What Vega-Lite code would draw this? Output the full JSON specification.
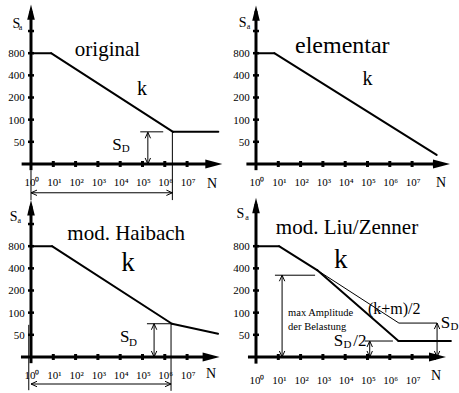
{
  "$schema": "https://vega.github.io/schema/vega-lite/v6.json",
  "padding": 0,
  "background": "white",
  "data": {
    "values": [
      {"p": "1", "r": "ax", "x": -0.42, "y": 0, "x2": 8.2, "y2": 0},
      {"p": "1", "r": "ax", "x": 0, "y": -0.28, "x2": 0, "y2": 6.9},
      {"p": "1", "r": "ah", "x": 8.58, "y": 0, "d": "R"},
      {"p": "1", "r": "ah", "x": 0, "y": 7.2, "d": "U"},
      {"p": "1", "r": "xt", "x": 1, "y": 0},
      {"p": "1", "r": "xt", "x": 2, "y": 0},
      {"p": "1", "r": "xt", "x": 3, "y": 0},
      {"p": "1", "r": "xt", "x": 4, "y": 0},
      {"p": "1", "r": "xt", "x": 5, "y": 0},
      {"p": "1", "r": "xt", "x": 6, "y": 0},
      {"p": "1", "r": "xt", "x": 7, "y": 0},
      {"p": "1", "r": "yt", "x": 0, "y": 1},
      {"p": "1", "r": "yt", "x": 0, "y": 2},
      {"p": "1", "r": "yt", "x": 0, "y": 3},
      {"p": "1", "r": "yt", "x": 0, "y": 4},
      {"p": "1", "r": "yt", "x": 0, "y": 5},
      {"p": "1", "r": "yt", "x": 0, "y": 6},
      {"p": "1", "r": "xl", "x": 0, "y": -0.98, "t": "10⁰"},
      {"p": "1", "r": "xl", "x": 1, "y": -0.98, "t": "10¹"},
      {"p": "1", "r": "xl", "x": 2, "y": -0.98, "t": "10²"},
      {"p": "1", "r": "xl", "x": 3, "y": -0.98, "t": "10³"},
      {"p": "1", "r": "xl", "x": 4, "y": -0.98, "t": "10⁴"},
      {"p": "1", "r": "xl", "x": 5, "y": -0.98, "t": "10⁵"},
      {"p": "1", "r": "xl", "x": 6, "y": -0.98, "t": "10⁶"},
      {"p": "1", "r": "xl", "x": 7, "y": -0.98, "t": "10⁷"},
      {"p": "1", "r": "yl", "x": -0.28, "y": 0.82, "t": "50"},
      {"p": "1", "r": "yl", "x": -0.28, "y": 1.82, "t": "100"},
      {"p": "1", "r": "yl", "x": -0.28, "y": 2.82, "t": "200"},
      {"p": "1", "r": "yl", "x": -0.28, "y": 3.82, "t": "400"},
      {"p": "1", "r": "yl", "x": -0.28, "y": 4.82, "t": "800"},
      {"p": "1", "r": "cv", "x": 0, "y": 5, "x2": 0.9, "y2": 5},
      {"p": "1", "r": "cv", "x": 0.9, "y": 5, "x2": 6.37, "y2": 1.45},
      {"p": "1", "r": "cv", "x": 6.37, "y": 1.45, "x2": 8.4, "y2": 1.45},
      {"p": "1", "r": "dm", "x": 5.24, "y": 0, "x2": 5.24, "y2": 1.43},
      {"p": "1", "r": "dm", "x": 4.9, "y": 1.45, "x2": 5.93, "y2": 1.45},
      {"p": "1", "r": "dm", "x": 6.34, "y": 1.45, "x2": 6.34, "y2": -1.63},
      {"p": "1", "r": "dm", "x": 0, "y": -1.3, "x2": 6.34, "y2": -1.3},
      {"p": "1", "r": "dm", "x": 0, "y": -0.28, "x2": 0, "y2": -1.63},
      {"p": "1", "r": "tip", "x": 5.24, "y": 1.43, "d": "u"},
      {"p": "1", "r": "tip", "x": 5.24, "y": 0, "d": "d"},
      {"p": "1", "r": "tip", "x": 0, "y": -1.3, "d": "l"},
      {"p": "1", "r": "tip", "x": 6.34, "y": -1.3, "d": "r"},
      {"p": "1", "r": "t21", "x": 3.43, "y": 4.86, "t": "original"},
      {"p": "1", "r": "k20", "x": 4.98, "y": 3.12, "t": "k"},
      {"p": "1", "r": "t17", "x": 3.86, "y": 0.64, "t": "S"},
      {"p": "1", "r": "t11", "x": 4.25, "y": 0.52, "t": "D"},
      {"p": "1", "r": "t14", "x": -0.66, "y": 6.12, "t": "S"},
      {"p": "1", "r": "t8", "x": -0.47, "y": 6.05, "t": "a"},
      {"p": "1", "r": "t14", "x": 8.12, "y": -1.07, "t": "N"},

      {"p": "2", "r": "ax", "x": -0.43, "y": 0, "x2": 8.3, "y2": 0},
      {"p": "2", "r": "ax", "x": 0, "y": -0.28, "x2": 0, "y2": 6.9},
      {"p": "2", "r": "ah", "x": 8.7, "y": 0, "d": "R"},
      {"p": "2", "r": "ah", "x": 0, "y": 7.15, "d": "U"},
      {"p": "2", "r": "xt", "x": 1, "y": 0},
      {"p": "2", "r": "xt", "x": 2, "y": 0},
      {"p": "2", "r": "xt", "x": 3, "y": 0},
      {"p": "2", "r": "xt", "x": 4, "y": 0},
      {"p": "2", "r": "xt", "x": 5, "y": 0},
      {"p": "2", "r": "xt", "x": 6, "y": 0},
      {"p": "2", "r": "xt", "x": 7, "y": 0},
      {"p": "2", "r": "xt", "x": 8, "y": 0},
      {"p": "2", "r": "yt", "x": 0, "y": 1},
      {"p": "2", "r": "yt", "x": 0, "y": 2},
      {"p": "2", "r": "yt", "x": 0, "y": 3},
      {"p": "2", "r": "yt", "x": 0, "y": 4},
      {"p": "2", "r": "yt", "x": 0, "y": 5},
      {"p": "2", "r": "yt", "x": 0, "y": 6},
      {"p": "2", "r": "xl", "x": 0, "y": -0.98, "t": "10⁰"},
      {"p": "2", "r": "xl", "x": 1, "y": -0.98, "t": "10¹"},
      {"p": "2", "r": "xl", "x": 2, "y": -0.98, "t": "10²"},
      {"p": "2", "r": "xl", "x": 3, "y": -0.98, "t": "10³"},
      {"p": "2", "r": "xl", "x": 4, "y": -0.98, "t": "10⁴"},
      {"p": "2", "r": "xl", "x": 5, "y": -0.98, "t": "10⁵"},
      {"p": "2", "r": "xl", "x": 6, "y": -0.98, "t": "10⁶"},
      {"p": "2", "r": "xl", "x": 7, "y": -0.98, "t": "10⁷"},
      {"p": "2", "r": "yl", "x": -0.28, "y": 0.82, "t": "50"},
      {"p": "2", "r": "yl", "x": -0.28, "y": 1.82, "t": "100"},
      {"p": "2", "r": "yl", "x": -0.28, "y": 2.82, "t": "200"},
      {"p": "2", "r": "yl", "x": -0.28, "y": 3.82, "t": "400"},
      {"p": "2", "r": "yl", "x": -0.28, "y": 4.82, "t": "800"},
      {"p": "2", "r": "cv", "x": 0, "y": 5, "x2": 0.82, "y2": 5},
      {"p": "2", "r": "cv", "x": 0.82, "y": 5, "x2": 8.1, "y2": 0.41},
      {"p": "2", "r": "t24", "x": 3.87, "y": 5.0, "t": "elementar"},
      {"p": "2", "r": "k20", "x": 5.0, "y": 3.57, "t": "k"},
      {"p": "2", "r": "t14", "x": -0.6, "y": 6.2, "t": "S"},
      {"p": "2", "r": "t8", "x": -0.33, "y": 6.1, "t": "a"},
      {"p": "2", "r": "t14", "x": 8.3, "y": -1.04, "t": "N"},

      {"p": "3", "r": "ax", "x": -0.45, "y": 0, "x2": 8.1, "y2": 0},
      {"p": "3", "r": "ax", "x": 0, "y": -0.28, "x2": 0, "y2": 6.8},
      {"p": "3", "r": "ah", "x": 8.46, "y": 0, "d": "R"},
      {"p": "3", "r": "ah", "x": 0, "y": 7.08, "d": "U"},
      {"p": "3", "r": "xt", "x": 1, "y": 0},
      {"p": "3", "r": "xt", "x": 2, "y": 0},
      {"p": "3", "r": "xt", "x": 3, "y": 0},
      {"p": "3", "r": "xt", "x": 4, "y": 0},
      {"p": "3", "r": "xt", "x": 5, "y": 0},
      {"p": "3", "r": "xt", "x": 6, "y": 0},
      {"p": "3", "r": "xt", "x": 7, "y": 0},
      {"p": "3", "r": "yt", "x": 0, "y": 1},
      {"p": "3", "r": "yt", "x": 0, "y": 2},
      {"p": "3", "r": "yt", "x": 0, "y": 3},
      {"p": "3", "r": "yt", "x": 0, "y": 4},
      {"p": "3", "r": "yt", "x": 0, "y": 5},
      {"p": "3", "r": "yt", "x": 0, "y": 6},
      {"p": "3", "r": "xl", "x": 0, "y": -0.98, "t": "10⁰"},
      {"p": "3", "r": "xl", "x": 1, "y": -0.98, "t": "10¹"},
      {"p": "3", "r": "xl", "x": 2, "y": -0.98, "t": "10²"},
      {"p": "3", "r": "xl", "x": 3, "y": -0.98, "t": "10³"},
      {"p": "3", "r": "xl", "x": 4, "y": -0.98, "t": "10⁴"},
      {"p": "3", "r": "xl", "x": 5, "y": -0.98, "t": "10⁵"},
      {"p": "3", "r": "xl", "x": 6, "y": -0.98, "t": "10⁶"},
      {"p": "3", "r": "xl", "x": 7, "y": -0.98, "t": "10⁷"},
      {"p": "3", "r": "yl", "x": -0.28, "y": 0.82, "t": "50"},
      {"p": "3", "r": "yl", "x": -0.28, "y": 1.82, "t": "100"},
      {"p": "3", "r": "yl", "x": -0.28, "y": 2.82, "t": "200"},
      {"p": "3", "r": "yl", "x": -0.28, "y": 3.82, "t": "400"},
      {"p": "3", "r": "yl", "x": -0.28, "y": 4.82, "t": "800"},
      {"p": "3", "r": "cv", "x": 0, "y": 5, "x2": 0.94, "y2": 5},
      {"p": "3", "r": "cv", "x": 0.94, "y": 5, "x2": 6.32, "y2": 1.5},
      {"p": "3", "r": "cv", "x": 6.32, "y": 1.5, "x2": 8.39, "y2": 1.05},
      {"p": "3", "r": "dm", "x": 5.52, "y": 0, "x2": 5.52, "y2": 1.5},
      {"p": "3", "r": "dm", "x": 5.2, "y": 1.5, "x2": 6.32, "y2": 1.5},
      {"p": "3", "r": "dm", "x": 6.28, "y": 1.5, "x2": 6.28, "y2": -1.53},
      {"p": "3", "r": "dm", "x": 0, "y": -1.22, "x2": 6.28, "y2": -1.22},
      {"p": "3", "r": "dm", "x": -0.1, "y": 1.45, "x2": -0.1, "y2": -1.5},
      {"p": "3", "r": "tip", "x": 5.52, "y": 1.5, "d": "u"},
      {"p": "3", "r": "tip", "x": 5.52, "y": 0, "d": "d"},
      {"p": "3", "r": "tip", "x": 0, "y": -1.22, "d": "l"},
      {"p": "3", "r": "tip", "x": 6.28, "y": -1.22, "d": "r"},
      {"p": "3", "r": "t21", "x": 4.27, "y": 5.28, "t": "mod. Haibach"},
      {"p": "3", "r": "k27", "x": 4.35, "y": 3.86, "t": "k"},
      {"p": "3", "r": "t17", "x": 4.2, "y": 0.66, "t": "S"},
      {"p": "3", "r": "t11", "x": 4.57, "y": 0.51, "t": "D"},
      {"p": "3", "r": "t14", "x": -0.78, "y": 6.15, "t": "S"},
      {"p": "3", "r": "t8", "x": -0.52, "y": 6.06, "t": "a"},
      {"p": "3", "r": "t14", "x": 8.07, "y": -0.95, "t": "N"},

      {"p": "4", "r": "ax", "x": -0.36, "y": 0, "x2": 8.1, "y2": 0},
      {"p": "4", "r": "ax", "x": 0, "y": -0.3, "x2": 0, "y2": 6.9},
      {"p": "4", "r": "ah", "x": 8.52, "y": 0, "d": "R"},
      {"p": "4", "r": "ah", "x": 0, "y": 7.18, "d": "U"},
      {"p": "4", "r": "xt", "x": 1, "y": 0},
      {"p": "4", "r": "xt", "x": 2, "y": 0},
      {"p": "4", "r": "xt", "x": 3, "y": 0},
      {"p": "4", "r": "xt", "x": 4, "y": 0},
      {"p": "4", "r": "xt", "x": 5, "y": 0},
      {"p": "4", "r": "xt", "x": 6, "y": 0},
      {"p": "4", "r": "xt", "x": 7, "y": 0},
      {"p": "4", "r": "xt", "x": 8, "y": 0},
      {"p": "4", "r": "yt", "x": 0, "y": 1},
      {"p": "4", "r": "yt", "x": 0, "y": 2},
      {"p": "4", "r": "yt", "x": 0, "y": 3},
      {"p": "4", "r": "yt", "x": 0, "y": 4},
      {"p": "4", "r": "yt", "x": 0, "y": 5},
      {"p": "4", "r": "xl", "x": 0, "y": -1.2, "t": "10⁰"},
      {"p": "4", "r": "xl", "x": 1, "y": -1.2, "t": "10¹"},
      {"p": "4", "r": "xl", "x": 2, "y": -1.2, "t": "10²"},
      {"p": "4", "r": "xl", "x": 3, "y": -1.2, "t": "10³"},
      {"p": "4", "r": "xl", "x": 4, "y": -1.2, "t": "10⁴"},
      {"p": "4", "r": "xl", "x": 5, "y": -1.2, "t": "10⁵"},
      {"p": "4", "r": "xl", "x": 6, "y": -1.2, "t": "10⁶"},
      {"p": "4", "r": "xl", "x": 7, "y": -1.2, "t": "10⁷"},
      {"p": "4", "r": "yl", "x": -0.28, "y": 0.82, "t": "50"},
      {"p": "4", "r": "yl", "x": -0.28, "y": 1.82, "t": "100"},
      {"p": "4", "r": "yl", "x": -0.28, "y": 2.82, "t": "200"},
      {"p": "4", "r": "yl", "x": -0.28, "y": 3.82, "t": "400"},
      {"p": "4", "r": "yl", "x": -0.28, "y": 4.82, "t": "800"},
      {"p": "4", "r": "cv", "x": 0, "y": 5, "x2": 1.03, "y2": 5},
      {"p": "4", "r": "cv", "x": 1.03, "y": 5, "x2": 2.74, "y2": 3.92},
      {"p": "4", "r": "cv", "x": 2.74, "y": 3.92, "x2": 6.39, "y2": 0.72},
      {"p": "4", "r": "cv", "x": 6.39, "y": 0.72, "x2": 8.74, "y2": 0.72},
      {"p": "4", "r": "dm", "x": 2.74, "y": 3.92, "x2": 6.41, "y2": 1.53},
      {"p": "4", "r": "dm", "x": 6.41, "y": 1.53, "x2": 8.12, "y2": 1.53},
      {"p": "4", "r": "dm", "x": 0.85, "y": 3.69, "x2": 2.65, "y2": 3.69},
      {"p": "4", "r": "dm", "x": 1.17, "y": 0, "x2": 1.17, "y2": 3.69},
      {"p": "4", "r": "dm", "x": 4.87, "y": 0.72, "x2": 6.14, "y2": 0.72},
      {"p": "4", "r": "dm", "x": 5.1, "y": 0, "x2": 5.1, "y2": 0.72},
      {"p": "4", "r": "dm", "x": 8.12, "y": 0, "x2": 8.12, "y2": 1.53},
      {"p": "4", "r": "tip", "x": 1.17, "y": 3.69, "d": "u"},
      {"p": "4", "r": "tip", "x": 1.17, "y": 0, "d": "d"},
      {"p": "4", "r": "tip", "x": 5.1, "y": 0.72, "d": "u"},
      {"p": "4", "r": "tip", "x": 5.1, "y": 0, "d": "d"},
      {"p": "4", "r": "tip", "x": 8.12, "y": 1.53, "d": "u"},
      {"p": "4", "r": "tip", "x": 8.12, "y": 0, "d": "d"},
      {"p": "4", "r": "t21", "x": 4.08, "y": 5.55, "t": "mod. Liu/Zenner"},
      {"p": "4", "r": "k27", "x": 3.8, "y": 4.03, "t": "k"},
      {"p": "4", "r": "note", "x": 1.44, "y": 1.85, "t": "max Amplitude"},
      {"p": "4", "r": "note", "x": 1.44, "y": 1.22, "t": "der Belastung"},
      {"p": "4", "r": "t16", "x": 6.2, "y": 1.96, "t": "(k+m)/2"},
      {"p": "4", "r": "t17", "x": 3.7, "y": 0.5, "t": "S"},
      {"p": "4", "r": "t11", "x": 4.1, "y": 0.4, "t": "D"},
      {"p": "4", "r": "t17", "x": 4.66, "y": 0.5, "t": "/2"},
      {"p": "4", "r": "t17", "x": 8.5, "y": 1.33, "t": "S"},
      {"p": "4", "r": "t11", "x": 8.9, "y": 1.2, "t": "D"},
      {"p": "4", "r": "t14", "x": -0.7, "y": 6.27, "t": "S"},
      {"p": "4", "r": "t8", "x": -0.4, "y": 6.16, "t": "a"},
      {"p": "4", "r": "t14", "x": 8.07, "y": -1.05, "t": "N"}
    ]
  },
  "facet": {"field": "p", "type": "nominal", "title": null,
    "header": {"title": null, "labels": false, "labelExpr": "''", "labelFontSize": 0, "labelPadding": 0}},
  "columns": 2,
  "spacing": 0,
  "bounds": "flush",
  "spec": {
    "width": 225,
    "height": 193,
    "encoding": {
      "x": {"field": "x", "type": "quantitative", "scale": {"domain": [-1.39, 8.7], "nice": false, "zero": false}, "axis": null},
      "y": {"field": "y", "type": "quantitative", "scale": {"domain": [-1.31, 7.4], "nice": false, "zero": false}, "axis": null}
    },
    "layer": [
      {
        "transform": [{"filter": "datum.r === 'ax'"}],
        "mark": {"type": "rule", "color": "black", "strokeWidth": 3},
        "encoding": {"x2": {"field": "x2"}, "y2": {"field": "y2"}}
      },
      {
        "transform": [{"filter": "datum.r === 'cv'"}],
        "mark": {"type": "rule", "color": "black", "strokeWidth": 2, "strokeCap": "round"},
        "encoding": {"x2": {"field": "x2"}, "y2": {"field": "y2"}}
      },
      {
        "transform": [{"filter": "datum.r === 'dm'"}],
        "mark": {"type": "rule", "color": "black", "strokeWidth": 1},
        "encoding": {"x2": {"field": "x2"}, "y2": {"field": "y2"}}
      },
      {
        "transform": [{"filter": "datum.r === 'xt'"}],
        "mark": {"type": "point", "shape": "M0,-1L0,1", "size": 36, "filled": false, "color": "black", "strokeWidth": 3, "opacity": 1}
      },
      {
        "transform": [{"filter": "datum.r === 'yt'"}],
        "mark": {"type": "point", "shape": "M-1,0L1,0", "size": 36, "filled": false, "color": "black", "strokeWidth": 2.5, "opacity": 1}
      },
      {
        "transform": [{"filter": "datum.r === 'ah'"}],
        "mark": {"type": "point", "size": 289, "filled": true, "color": "black", "opacity": 1},
        "encoding": {
          "shape": {"field": "d", "type": "nominal", "legend": null,
            "scale": {"domain": ["U", "R", "u", "d", "l", "r"],
              "range": ["M0,0L-0.45,1.8L0.45,1.8Z", "M0,0L-2,-0.53L-2,0.53Z", "M-0.45,1L0,0L0.45,1", "M-0.45,-1L0,0L0.45,-1", "M1,-0.45L0,0L1,0.45", "M-1,-0.45L0,0L-1,0.45"]}}
        }
      },
      {
        "transform": [{"filter": "datum.r === 'tip'"}],
        "mark": {"type": "point", "size": 144, "filled": false, "color": "black", "strokeWidth": 1, "opacity": 1},
        "encoding": {
          "shape": {"field": "d", "type": "nominal", "legend": null,
            "scale": {"domain": ["U", "R", "u", "d", "l", "r"],
              "range": ["M0,0L-0.45,1.8L0.45,1.8Z", "M0,0L-2,-0.53L-2,0.53Z", "M-0.45,1L0,0L0.45,1", "M-0.45,-1L0,0L0.45,-1", "M1,-0.45L0,0L1,0.45", "M-1,-0.45L0,0L-1,0.45"]}}
        }
      },
      {
        "transform": [{"filter": "datum.r === 'xl'"}],
        "mark": {"type": "text", "font": "Liberation Serif", "fontSize": 11, "align": "center", "baseline": "alphabetic", "dx": 1, "color": "black"},
        "encoding": {"text": {"field": "t"}}
      },
      {
        "transform": [{"filter": "datum.r === 'yl'"}],
        "mark": {"type": "text", "font": "Liberation Serif", "fontSize": 11, "align": "right", "baseline": "alphabetic", "color": "black"},
        "encoding": {"text": {"field": "t"}}
      },
      {
        "transform": [{"filter": "datum.r === 't21'"}],
        "mark": {"type": "text", "font": "Liberation Serif", "fontSize": 21, "align": "center", "baseline": "alphabetic", "color": "black"},
        "encoding": {"text": {"field": "t"}}
      },
      {
        "transform": [{"filter": "datum.r === 't24'"}],
        "mark": {"type": "text", "font": "Liberation Serif", "fontSize": 24, "align": "center", "baseline": "alphabetic", "color": "black"},
        "encoding": {"text": {"field": "t"}}
      },
      {
        "transform": [{"filter": "datum.r === 'k20'"}],
        "mark": {"type": "text", "font": "Liberation Serif", "fontSize": 20, "align": "center", "baseline": "alphabetic", "color": "black"},
        "encoding": {"text": {"field": "t"}}
      },
      {
        "transform": [{"filter": "datum.r === 'k27'"}],
        "mark": {"type": "text", "font": "Liberation Serif", "fontSize": 27, "align": "center", "baseline": "alphabetic", "color": "black"},
        "encoding": {"text": {"field": "t"}}
      },
      {
        "transform": [{"filter": "datum.r === 't17'"}],
        "mark": {"type": "text", "font": "Liberation Serif", "fontSize": 17, "align": "center", "baseline": "alphabetic", "color": "black"},
        "encoding": {"text": {"field": "t"}}
      },
      {
        "transform": [{"filter": "datum.r === 't16'"}],
        "mark": {"type": "text", "font": "Liberation Serif", "fontSize": 16, "align": "center", "baseline": "alphabetic", "color": "black"},
        "encoding": {"text": {"field": "t"}}
      },
      {
        "transform": [{"filter": "datum.r === 't14'"}],
        "mark": {"type": "text", "font": "Liberation Serif", "fontSize": 14, "align": "center", "baseline": "alphabetic", "color": "black"},
        "encoding": {"text": {"field": "t"}}
      },
      {
        "transform": [{"filter": "datum.r === 't11'"}],
        "mark": {"type": "text", "font": "Liberation Serif", "fontSize": 11, "align": "center", "baseline": "alphabetic", "color": "black"},
        "encoding": {"text": {"field": "t"}}
      },
      {
        "transform": [{"filter": "datum.r === 't8'"}],
        "mark": {"type": "text", "font": "Liberation Serif", "fontSize": 8, "align": "center", "baseline": "alphabetic", "color": "black"},
        "encoding": {"text": {"field": "t"}}
      },
      {
        "transform": [{"filter": "datum.r === 'note'"}],
        "mark": {"type": "text", "font": "Liberation Serif", "fontSize": 10.5, "align": "left", "baseline": "alphabetic", "color": "black"},
        "encoding": {"text": {"field": "t"}}
      }
    ]
  },
  "config": {
    "view": {"stroke": null},
    "header": {"labels": false, "title": null, "labelFontSize": 0, "labelPadding": 0},
    "headerFacet": {"labels": false, "title": null, "labelFontSize": 0, "labelPadding": 0}
  }
}
